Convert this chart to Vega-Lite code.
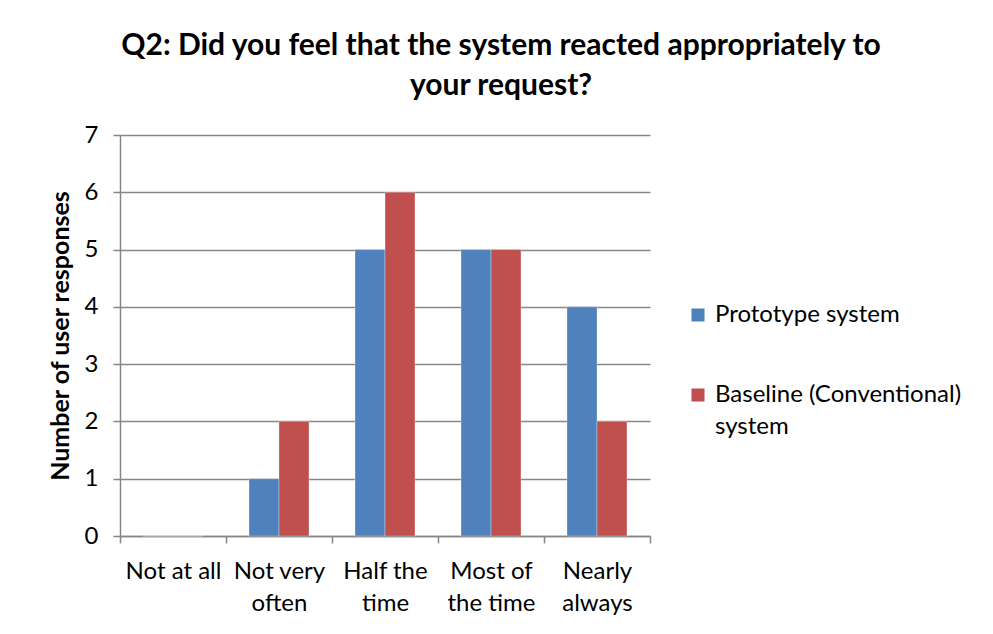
{
  "$schema": "https://vega.github.io/schema/vega-lite/v6.json",
  "width": 530,
  "height": 401,
  "autosize": {"type": "none"},
  "padding": {"left": 120, "top": 135, "right": 343, "bottom": 98},
  "background": "white",
  "config": {
    "font": "Lato",
    "view": {"stroke": null},
    "style": {"guide-label": {"lineHeight": 32}}
  },
  "title": {
    "text": ["Q2: Did you feel that the system reacted appropriately to", "your request?"],
    "font": "Lato",
    "fontSize": 30,
    "fontWeight": "bold",
    "color": "#000000",
    "anchor": "middle",
    "dx": 116,
    "offset": 22,
    "lineHeight": 40
  },
  "data": {
    "values": [
      {"response": "Not at all", "system": "Prototype system", "count": 0},
      {"response": "Not at all", "system": "Baseline (Conventional) system", "count": 0},
      {"response": "Not very often", "system": "Prototype system", "count": 1},
      {"response": "Not very often", "system": "Baseline (Conventional) system", "count": 2},
      {"response": "Half the time", "system": "Prototype system", "count": 5},
      {"response": "Half the time", "system": "Baseline (Conventional) system", "count": 6},
      {"response": "Most of the time", "system": "Prototype system", "count": 5},
      {"response": "Most of the time", "system": "Baseline (Conventional) system", "count": 5},
      {"response": "Nearly always", "system": "Prototype system", "count": 4},
      {"response": "Nearly always", "system": "Baseline (Conventional) system", "count": 2}
    ]
  },
  "mark": {"type": "bar", "stroke": "#ffffff", "strokeWidth": 0.5, "strokeOpacity": 0.6},
  "encoding": {
    "x": {
      "field": "response",
      "type": "nominal",
      "sort": ["Not at all", "Not very often", "Half the time", "Most of the time", "Nearly always"],
      "scale": {"paddingInner": 0, "paddingOuter": 0},
      "axis": {
        "title": null,
        "labelAngle": 0,
        "labelFontSize": 24,
        "labelColor": "#000000",
        "labelPadding": 16,
        "labelLineHeight": 32,
        "tickBand": "extent",
        "tickSize": 7,
        "tickColor": "#868686",
        "tickWidth": 1.5,
        "domainColor": "#868686",
        "domainWidth": 1.5,
        "labelExpr": "datum.label == 'Not very often' ? ['Not very', 'often'] : datum.label == 'Half the time' ? ['Half the', 'time'] : datum.label == 'Most of the time' ? ['Most of', 'the time'] : datum.label == 'Nearly always' ? ['Nearly', 'always'] : datum.label"
      }
    },
    "xOffset": {
      "field": "system",
      "type": "nominal",
      "sort": ["Prototype system", "Baseline (Conventional) system"],
      "scale": {"paddingInner": 0, "paddingOuter": 0.767}
    },
    "y": {
      "field": "count",
      "type": "quantitative",
      "scale": {"domain": [0, 7], "nice": false},
      "axis": {
        "title": "Number of user responses",
        "titleFontSize": 25,
        "titleFontWeight": "bold",
        "titleColor": "#000000",
        "titlePadding": 11,
        "values": [0, 1, 2, 3, 4, 5, 6, 7],
        "labelFontSize": 24,
        "labelColor": "#000000",
        "labelPadding": 15,
        "tickSize": 7,
        "tickColor": "#868686",
        "tickWidth": 1.5,
        "domainColor": "#868686",
        "domainWidth": 1.5,
        "grid": true,
        "gridColor": "#868686",
        "gridWidth": 1.5
      }
    },
    "color": {
      "field": "system",
      "type": "nominal",
      "sort": ["Prototype system", "Baseline (Conventional) system"],
      "scale": {"domain": ["Prototype system", "Baseline (Conventional) system"], "range": ["#4F81BD", "#C0504D"]},
      "legend": {
        "title": null,
        "orient": "none",
        "legendX": 566,
        "legendY": 168,
        "symbolType": "square",
        "symbolSize": 170,
        "symbolStrokeWidth": 0,
        "labelFontSize": 24,
        "labelColor": "#000000",
        "labelOffset": 5,
        "labelLimit": 400,
        "rowPadding": 56,
        "labelExpr": "datum.label == 'Baseline (Conventional) system' ? ['Baseline (Conventional)', 'system'] : datum.label"
      }
    }
  }
}
